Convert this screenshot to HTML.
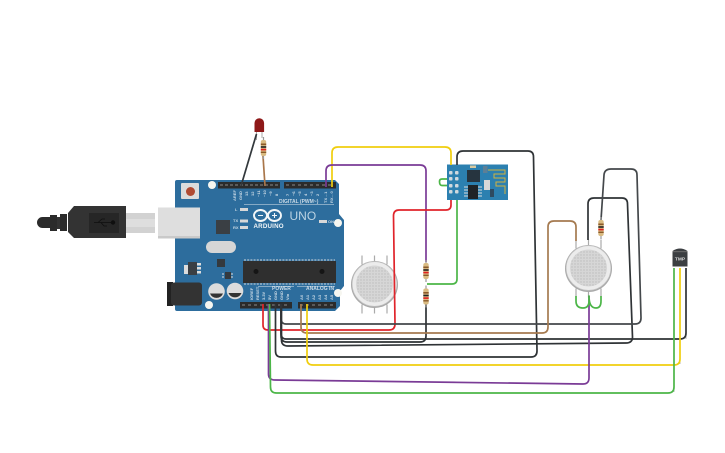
<!DOCTYPE html>
<html>
<head>
<meta charset="utf-8">
<style>
html,body{margin:0;padding:0;background:#fff;width:725px;height:453px;overflow:hidden}
svg{display:block}
text{font-family:"Liberation Sans",sans-serif}
</style>
</head>
<body>
<svg width="725" height="453" viewBox="0 0 725 453" xmlns="http://www.w3.org/2000/svg">
<defs>
<pattern id="dots" width="3" height="3" patternUnits="userSpaceOnUse">
<rect width="3" height="3" fill="#d6d6d6"/><circle cx="1.5" cy="1.5" r=".7" fill="#bcbcbc"/>
</pattern>
<g id="res">
<rect x="-.6" y="-11" width="1.2" height="22" fill="#999"/>
<rect x="-2.7" y="-8" width="5.4" height="16" rx="2" fill="#d9bb82"/>
<rect x="-2.7" y="-4.5" width="5.4" height="1.6" fill="#8a5a2a"/>
<rect x="-2.7" y="-1.8" width="5.4" height="1.6" fill="#222"/>
<rect x="-2.7" y=".8" width="5.4" height="1.6" fill="#e02020"/>
<rect x="-2.7" y="3.6" width="5.4" height="1.4" fill="#8a5a2a"/>
</g>
<g id="sensor">
<g stroke="#aaa" stroke-width="1.2">
<path d="M-12.500 -29V-20M0 -29V-20M12.500 -29V-20M-12.500 29V20M0 29V20M12.500 29V20"/>
</g>
<circle r="23.500" fill="#a9a9a9"/>
<circle cy="-.5" r="22.300" fill="#ececec" stroke="#c4c4c4" stroke-width=".6"/>
<circle cy="-.5" r="18.500" fill="url(#dots)"/>
</g>
</defs>

<!-- USB -->
<path d="M37 222.500a5.500 5.500 0 0 1 5.500-5.500H50V228H42.500a5.500 5.500 0 0 1-5.500-5.500z" fill="#2b2b2b"/>
<rect x="50" y="215" width="7" height="16" fill="#2b2b2b"/>
<rect x="57" y="217" width="3" height="12" fill="#333"/>
<rect x="60" y="214" width="7" height="17" fill="#2b2b2b"/>
<path d="M68 213L74 206H126V238H74L68 232z" fill="#333"/>
<rect x="89" y="213" width="30" height="20" fill="#262626"/>
<g stroke="#0f0f0f" fill="#0f0f0f" stroke-width=".8">
<path d="M94 222.500H113M98 222.500L102 219H105M101 222.500L104 226H107" fill="none"/>
<circle cx="113" cy="222.500" r="1.800"/>
</g>
<rect x="126" y="213" width="29" height="20" fill="#d2d2d2"/>
<rect x="126" y="219" width="29" height="8" fill="#dedede"/>
<circle cx="183" cy="206" r="5" fill="#e2e2e2"/>
<circle cx="183" cy="238" r="5" fill="#e2e2e2"/>

<!-- Board -->
<path d="M177 180H335L339 184V214L344 220V286L340 291V306L335 311H177Q175 311 175 309V182Q175 180 177 180z" fill="#2d6d9d"/>
<rect x="158" y="207.500" width="42" height="31" fill="#dedede"/>
<rect x="158" y="236" width="42" height="2.500" fill="#c9c9c9"/>
<circle cx="212" cy="185" r="4" fill="#f6f6f0"/>
<circle cx="338" cy="223" r="4" fill="#f6f6f0"/>
<circle cx="338" cy="293" r="4" fill="#f6f6f0"/>
<circle cx="209" cy="305" r="4" fill="#f6f6f0"/>

<rect x="181" y="183" width="18" height="16" rx="1" fill="#dcdcdc"/>
<circle cx="190.500" cy="191.500" r="4.500" fill="#b04a32"/>

<rect x="218" y="182" width="62" height="6.500" fill="#2b2b2b"/>
<rect x="284" y="182" width="52" height="6.500" fill="#2b2b2b"/>
<rect x="240" y="302" width="52" height="6.500" fill="#2b2b2b"/>
<rect x="298" y="302" width="38" height="6.500" fill="#2b2b2b"/>
<g fill="#5a5a5a">
<path d="M220 184h3v2h-3zM225 184h3v2h-3zM230 184h3v2h-3zM235 184h3v2h-3zM240 184h3v2h-3zM245 184h3v2h-3zM250 184h3v2h-3zM255 184h3v2h-3zM260 184h3v2h-3zM265 184h3v2h-3zM270 184h3v2h-3zM275 184h3v2h-3z"/>
<path d="M286 184h3v2h-3zM292 184h3v2h-3zM298 184h3v2h-3zM304 184h3v2h-3zM310 184h3v2h-3zM316 184h3v2h-3zM322 184h3v2h-3zM328 184h3v2h-3z"/>
<path d="M242 304h3v2h-3zM248 304h3v2h-3zM254 304h3v2h-3zM260 304h3v2h-3zM266 304h3v2h-3zM272 304h3v2h-3zM278 304h3v2h-3zM284 304h3v2h-3z"/>
<path d="M300 304h3v2h-3zM306 304h3v2h-3zM312 304h3v2h-3zM318 304h3v2h-3zM324 304h3v2h-3zM330 304h3v2h-3z"/>
</g>

<g fill="#c9d9e5" font-size="4" font-weight="bold">
<text transform="translate(236 201) rotate(-90)">AREF</text>
<text transform="translate(242 200) rotate(-90)">GND</text>
<text transform="translate(248 196) rotate(-90)">13</text>
<text transform="translate(254 196) rotate(-90)">12</text>
<text transform="translate(260 197) rotate(-90)">~11</text>
<text transform="translate(266 197) rotate(-90)">~10</text>
<text transform="translate(272 196) rotate(-90)">~9</text>
<text transform="translate(278 196) rotate(-90)">8</text>
<text transform="translate(289 196) rotate(-90)">7</text>
<text transform="translate(295 196) rotate(-90)">~6</text>
<text transform="translate(301 196) rotate(-90)">~5</text>
<text transform="translate(307 196) rotate(-90)">4</text>
<text transform="translate(313 196) rotate(-90)">~3</text>
<text transform="translate(319 196) rotate(-90)">2</text>
<text transform="translate(327 203) rotate(-90)">TX→1</text>
<text transform="translate(333 203) rotate(-90)">RX←0</text>
<text x="279" y="203" font-size="5">DIGITAL (PWM~)</text>
<text x="272" y="290" font-size="5">POWER</text>
<text x="306" y="290" font-size="5">ANALOG IN</text>
<text transform="translate(253 300) rotate(-90)">IOREF</text>
<text transform="translate(259 300) rotate(-90)">RESET</text>
<text transform="translate(265 300) rotate(-90)">3.3V</text>
<text transform="translate(271 300) rotate(-90)">5V</text>
<text transform="translate(277 300) rotate(-90)">GND</text>
<text transform="translate(283 300) rotate(-90)">GND</text>
<text transform="translate(289 300) rotate(-90)">Vin</text>
<text transform="translate(303 300) rotate(-90)">A0</text>
<text transform="translate(309 300) rotate(-90)">A1</text>
<text transform="translate(315 300) rotate(-90)">A2</text>
<text transform="translate(321 300) rotate(-90)">A3</text>
<text transform="translate(327 300) rotate(-90)">A4</text>
<text transform="translate(333 300) rotate(-90)">A5</text>
<text x="235" y="211">L</text>
<text x="233" y="222">TX</text>
<text x="233" y="229">RX</text>
<text x="328" y="223">ON</text>
</g>
<path d="M244 204.500H334M258 286.500H294M297 286.500H335" stroke="#dfe8ee" stroke-width=".6" fill="none"/>
<rect x="240" y="208" width="8" height="3" fill="#d8d8d8"/>
<rect x="240" y="219.500" width="8" height="3" fill="#d8d8d8"/>
<rect x="240" y="226" width="8" height="3" fill="#d8d8d8"/>
<rect x="319" y="220" width="8" height="3" fill="#d8d8d8"/>

<g fill="none" stroke="#f2f6f8" stroke-width="1.900">
<ellipse cx="260.500" cy="215.500" rx="6.500" ry="5.500"/>
<ellipse cx="274.500" cy="215.500" rx="6.500" ry="5.500"/>
</g>
<path d="M258 215.500h5M272 215.500h5M274.500 213v5" stroke="#f2f6f8" stroke-width="1.100"/>
<text x="253.500" y="228" font-size="6.200" font-weight="bold" fill="#f2f6f8" letter-spacing=".2">ARDUINO</text>
<text x="289.500" y="220" font-size="12" fill="#bcd3e3">UNO</text>

<rect x="216" y="220" width="14" height="14" fill="#3a3f44"/>
<rect x="206" y="241" width="30" height="12" rx="6" fill="#d6d6d6"/>
<rect x="217" y="259" width="8" height="8" fill="#34393e"/>
<rect x="188" y="262" width="9" height="13" fill="#3a3f44"/>
<rect x="184" y="265" width="4" height="9" fill="#dcdcdc"/>
<rect x="197" y="263" width="4" height="2.500" fill="#ddd"/><rect x="197" y="267" width="4" height="2.500" fill="#ddd"/><rect x="197" y="271" width="4" height="2.500" fill="#ddd"/>
<rect x="225" y="272" width="6" height="7" fill="#34393e"/>
<path d="M222 274h2M222 277h2M231 274h2M231 277h2" stroke="#ddd" stroke-width="1"/>

<rect x="243" y="261" width="93" height="22" fill="#2f2f2f"/>
<path d="M244 260h91M244 284h91" stroke="#cfd5da" stroke-width="1" stroke-dasharray="2 1.200"/>
<circle cx="256" cy="271.500" r="2.500" fill="#151515"/>
<circle cx="322" cy="271.500" r="2.500" fill="#151515"/>

<rect x="167" y="282" width="6" height="24" fill="#222"/>
<rect x="171" y="282.500" width="31" height="23" rx="3" fill="#333"/>
<circle cx="216.500" cy="291.500" r="8.300" fill="#dcdcdc"/>
<path d="M210 293.500a7 7 0 0 0 13 0z" fill="#333"/>
<circle cx="235" cy="291" r="8.300" fill="#dcdcdc"/>
<path d="M228.500 293a7 7 0 0 0 13 0z" fill="#333"/>

<!-- Sensors -->
<use href="#sensor" transform="translate(374.500 284.500)"/>
<use href="#sensor" transform="translate(588.500 268.500)"/>

<!-- ESP -->
<rect x="447" y="164.500" width="61" height="35.500" fill="#2c80b0"/>
<g fill="#cfd8de">
<rect x="449" y="171" width="3.500" height="3.500" rx="1"/><rect x="455" y="171" width="3.500" height="3.500" rx="1"/>
<rect x="449" y="177" width="3.500" height="3.500" rx="1"/><rect x="455" y="177" width="3.500" height="3.500" rx="1"/>
<rect x="449" y="184" width="3.500" height="3.500" rx="1"/><rect x="455" y="184" width="3.500" height="3.500" rx="1"/>
<rect x="449" y="190" width="3.500" height="3.500" rx="1"/><rect x="455" y="190" width="3.500" height="3.500" rx="1"/>
</g>
<rect x="467" y="170" width="13" height="12" fill="#26343f"/>
<rect x="468" y="185" width="10" height="14" fill="#1f2327"/>
<path d="M464 187h4M464 190h4M464 193h4M464 196h4M478 187h4M478 190h4M478 193h4M478 196h4" stroke="#ddd" stroke-width="1"/>
<rect x="484" y="180" width="6" height="10" fill="#d8d8d8"/>
<rect x="470" y="165.500" width="6" height="2.500" fill="#d8c9a0"/>
<rect x="483" y="166" width="4.500" height="7" fill="#5d7f96"/>
<rect x="490" y="189" width="4" height="8" fill="#2e4a60"/>
<path d="M488 170H505V174H494V178H505V182H496V186H505V194" fill="none" stroke="#d2b23e" stroke-width="1"/>

<!-- TMP -->
<path d="M674 268V392M680 268V364M686 268V339" stroke="#bbb" stroke-width="1" fill="none"/>
<path d="M672.500 251Q680 246 687.500 251V266.500H672.500z" fill="#3c3f42"/>
<rect x="672.500" y="251" width="15" height="1.200" fill="#666"/>
<text x="680" y="260.500" font-size="4.800" font-weight="bold" fill="#ddd" text-anchor="middle">TMP</text>

<!-- LED -->
<path d="M256.500 131V140M262 131V138" stroke="#aaa" stroke-width="1"/>
<path d="M254.500 131V123a4.800 4.800 0 0 1 9.600 0V132H254.500z" fill="#8e1818"/>

<!-- Wires -->
<g fill="none" stroke-width="1.700" stroke-linejoin="round">
<path d="M241 186L256.500 134" stroke="#33383c"/>
<path d="M265 186L263 156" stroke="#a9764a"/>
<path d="M332 187V153Q332 147 338 147H445Q451 147 451 153V165" stroke="#f0ce0e"/>
<path d="M326 187V171Q326 165 332 165H420Q426 165 426 171V262" stroke="#7a3b96"/>
<path d="M451 200V205Q451 210 446 210H399Q393.500 210 393.500 216L395 324Q395 330 389 330H268Q263 330 263 325V304" stroke="#e0242b"/>
<path d="M457 200V279Q457 284 452 284H427" stroke="#4cb648"/>
<path d="M447 179H442Q439.500 179 439.500 181.500Q439.500 185.500 442 185.500H447" stroke="#4cb648"/>
<path d="M457 165V157Q457 151 463 151H528Q533.500 151 533.500 157L537 351Q537 357 531 357H281Q275.500 357 275.500 351V304" stroke="#2f3336"/>
<path d="M588 240V204Q588 198 594 198H622Q627.500 198 627.500 204L632.500 337Q632.500 343 626 343L288 346Q281.500 346 281.500 340V304" stroke="#2f3336"/>
<path d="M601 220L604 175Q604.500 169 611 169H631Q637 169 637 175L641 318Q641 324 635 324H286Q281 324 281 318V304" stroke="#44484b"/>
<path d="M426 304V336Q426 342 420 342H287Q281 342 281 336V304" stroke="#2f3336"/>
<path d="M686 268V333Q686 339 680 339H286Q281 339 281 333V304" stroke="#2f3336"/>
<path d="M301 304V327Q301 333 307 333H542Q548 333 548 327V227Q548 221 554 221H570Q576 221 576 227V241" stroke="#a57a50"/>
<path d="M307 304V359Q307 365 313 365H674Q680 365 680 359V268" stroke="#f0ce0e"/>
<path d="M268.500 304V374Q268.500 380 275 380L583 384Q589 384 589 378V296" stroke="#7a3b96"/>
<path d="M269.500 304L270.500 387Q270.500 393 276.500 393H668Q674 393 674 387V268" stroke="#4cb648"/>
<path d="M576 296V301Q576 308 583 308Q589 308 589 301V296Q589 308 596 308Q601 308 601 301V296" stroke="#4cb648"/>
</g>

<!-- Resistors -->
<use href="#res" transform="translate(263.500 148)"/>
<use href="#res" transform="translate(426 271)"/>
<use href="#res" transform="translate(426 296.500)"/>
<use href="#res" transform="translate(601 228)"/>
</svg>
</body>
</html>
